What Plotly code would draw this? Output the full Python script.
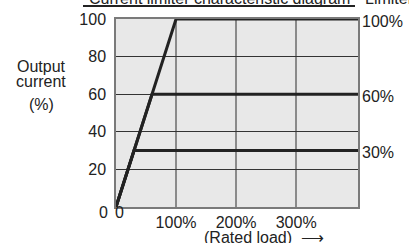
import plotly.graph_objects as go

# Data
limit_levels = [100, 60, 30]          # current limiter setting (%)
knee_load = [100, 60, 30]             # rated load (%) where the limit is reached
load_end = 403                        # right end of the load axis (%)
y_ticks = [20, 40, 60, 80, 100]
x_ticks = [100, 200, 300]
x_tick_labels = ["100%", "200%", "300%"]
right_labels = ["100%", "60%", "30%"]

FONT = "Liberation Sans, Arial, sans-serif"
fig = go.Figure()

for lvl, knee in zip(limit_levels, knee_load):
    fig.add_trace(go.Scatter(
        x=[0, knee, load_end], y=[0, lvl, lvl], mode="lines",
        line=dict(color="#222222", width=3), hoverinfo="skip", showlegend=False))

fig.update_layout(
    width=409, height=243,
    margin=dict(l=116, r=51, t=19, b=36),
    paper_bgcolor="white", plot_bgcolor="#e8e8e8",
    font=dict(family=FONT, size=16, color="#222222"),
    showlegend=False,
)
fig.update_xaxes(
    range=[0, load_end], tickvals=x_ticks, ticktext=x_tick_labels,
    showgrid=True, gridcolor="#8a8a8a", gridwidth=1.5,
    zeroline=False, showline=True, linecolor="#7a7a7a", linewidth=1.5, mirror=True,
    ticks="", ticklabelstandoff=0, tickfont=dict(size=16, family=FONT),
)
fig.update_yaxes(
    range=[0, 100], tickvals=y_ticks,
    showgrid=True, gridcolor="#333333", gridwidth=1,
    zeroline=False, showline=True, linecolor="#7a7a7a", linewidth=1.5, mirror=True,
    ticks="", ticklabelstandoff=5, tickfont=dict(size=16, family=FONT),
)

# zero labels
fig.add_annotation(x=0, y=0, xref="x", yref="y", text="0", showarrow=False,
                   xanchor="right", yanchor="middle", xshift=-6, yshift=-5)
fig.add_annotation(x=0, y=0, xref="x", yref="y", text="0", showarrow=False,
                   xanchor="center", yanchor="middle", xshift=3, yshift=-5)

# right labels
for lvl, lab in zip(limit_levels, right_labels):
    fig.add_annotation(x=1, y=lvl, xref="paper", yref="y", text=lab, showarrow=False,
                       xanchor="left", yanchor="middle", xshift=2, yshift=-2)

# left axis title
def px_x(px):
    return (px - 116) / 242

def px_y(py):
    return (207 - py) / 188

for txt, py in [("Output", 66), ("current", 81), ("(%)", 104)]:
    fig.add_annotation(x=px_x(41), y=px_y(py), xref="paper", yref="paper",
                       text=txt, showarrow=False, xanchor="center",
                       yanchor="middle", font=dict(size=16))

# x axis title
fig.add_annotation(x=px_x(264), y=px_y(237), xref="paper", yref="paper",
                   text="(Rated load)  \u27f6", showarrow=False, xanchor="center",
                   yanchor="middle", font=dict(size=16))

# chart title (cut off at top)
fig.add_annotation(x=px_x(219), y=px_y(-2), xref="paper", yref="paper",
                   text="Current limiter characteristic diagram", showarrow=False,
                   xanchor="center", yanchor="middle", font=dict(size=16))
fig.add_shape(type="line", xref="paper", yref="paper",
              x0=px_x(83), x1=px_x(355), y0=px_y(6), y1=px_y(6),
              line=dict(color="#222222", width=2))
fig.add_annotation(x=px_x(363), y=px_y(-2), xref="paper", yref="paper",
                   text="Limiter", showarrow=False,
                   xanchor="left", yanchor="middle", font=dict(size=16))

fig.write_html("out.html", config={"displayModeBar": False},
               post_script="document.body.style.margin='0';document.body.style.overflow='hidden';")
